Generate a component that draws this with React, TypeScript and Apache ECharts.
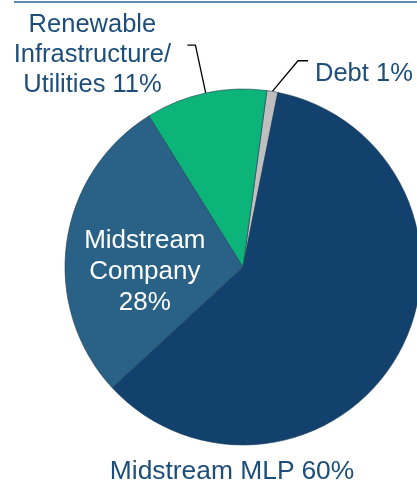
import React, { useEffect, useRef } from "react";
import * as echarts from "echarts";

const categories = ["Debt", "Midstream MLP", "Midstream Company", "Renewable Infrastructure/ Utilities"];
const values = [1, 60, 28, 11];
const labelTexts = ["Debt 1%", "Midstream MLP 60%", "Midstream\nCompany\n28%", "Renewable\nInfrastructure/\nUtilities 11%"];
const colors = ["#bfbfbf", "#11416c", "#2a6287", "#0db47a"];

const TEXT = "#1d4e7b";
const FONT = "'Liberation Sans', Arial, sans-serif";

export default function App() {
  const ref = useRef<HTMLDivElement>(null);
  useEffect(() => {
    if (!ref.current) return;
    const chart = echarts.init(ref.current, null, { renderer: "svg" });
    const data = categories.map((name, i) => {
      const item: any = { name, value: values[i], itemStyle: { color: colors[i] } };
      if (i === 0) {
        item.label = {
          position: "outside",
          formatter: "{s|}\n{a|" + labelTexts[0] + "}",
          rich: {
            s: { height: 20, lineHeight: 20 },
            a: { fontSize: 25.5, lineHeight: 30, padding: [0, 0, 0, 7], color: TEXT, fontFamily: FONT },
          },
        };
        item.labelLine = { show: true, length: 30, length2: 10 };
      } else if (i === 1) {
        item.label = { position: "outside", formatter: labelTexts[1], fontSize: 26.4, lineHeight: 22 };
        item.labelLine = { show: false };
      } else if (i === 2) {
        item.label = {
          position: "inside",
          formatter: labelTexts[2],
          color: "#ffffff",
          lineHeight: 31,
          align: "center",
          offset: [-7, 15],
          fontSize: 26,
        };
      } else {
        item.label = {
          position: "outside",
          formatter: "{a|Renewable}\n{a|Infrastructure/}\n{a|Utilities 11%}",
          distanceToLabelLine: 15,
          padding: [16, 0, 0, 0],
          rich: {
            a: { width: 160, align: "center", fontSize: 25.5, lineHeight: 30, color: TEXT, fontFamily: FONT },
          },
        };
        item.labelLine = { show: true, length: 49, length2: 8 };
      }
      return item;
    });
    chart.setOption({
      animation: false,
      graphic: [
        {
          type: "line",
          shape: { x1: 14, y1: 2, x2: 417, y2: 2 },
          style: { stroke: "#2f6596", lineWidth: 1.5 },
        },
      ],
      series: [
        {
          type: "pie",
          center: [243, 267],
          radius: [0, 178],
          startAngle: 82.3,
          clockwise: true,
          avoidLabelOverlap: false,
          itemStyle: { borderColor: "#1b3a57", borderWidth: 0.6 },
          label: {
            show: true,
            color: TEXT,
            fontSize: 25,
            lineHeight: 30,
            fontFamily: FONT,
          },
          labelLine: { lineStyle: { color: "#000000", width: 1.3 }, smooth: false },
          emphasis: { disabled: true },
          labelLayout: (params: any) => {
            if (params.dataIndex === 1) {
              return { x: 232, y: 470, align: "center", verticalAlign: "middle" };
            }
            if (params.dataIndex === 0) {
              return { x: 308, y: 62, align: "left", verticalAlign: "middle" };
            }
            return {};
          },
          data,
        },
      ],
    });
    return () => chart.dispose();
  }, []);
  return <div ref={ref} style={{ position: "fixed", left: 0, top: 0, width: 417, height: 484 }} />;
}
